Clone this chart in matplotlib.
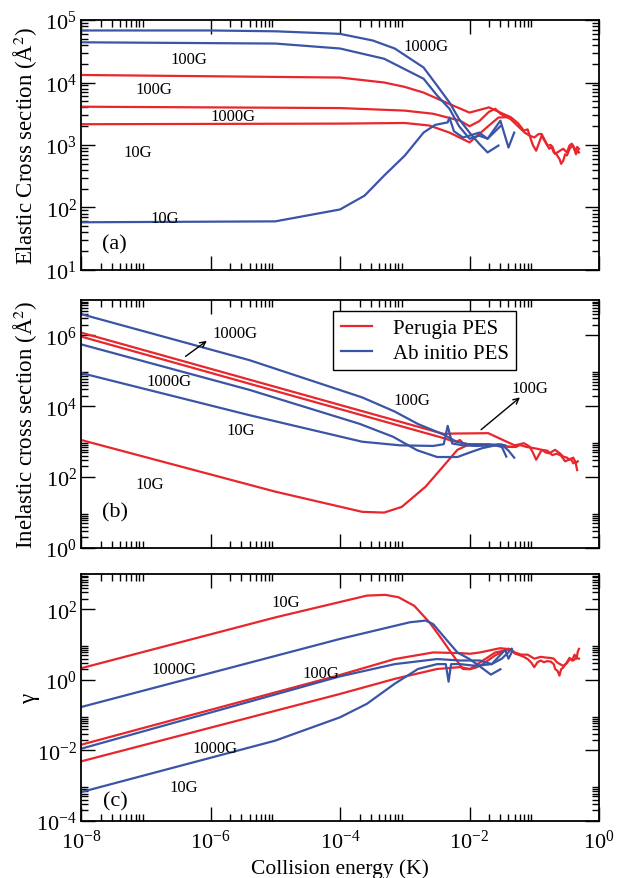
import matplotlib
matplotlib.use("Agg")
import matplotlib.pyplot as plt
from matplotlib.ticker import FixedLocator, LogFormatterMathtext, NullFormatter

plt.rcParams['font.family'] = ['Liberation Serif', 'DejaVu Serif']
plt.rcParams['mathtext.fontset'] = 'stix'

RED = '#e8262b'
BLUE = '#3b55a6'

# ---------------- (a) elastic cross sections (Å^2) ----------------
a_blue_1000G_E = [1e-8, 1e-6, 1e-5, 1e-4, 3.2e-4, 7e-4, 1.95e-3, 3.16e-3, 4.9e-3, 6.9e-3, 1e-2, 1.41e-2, 1.9e-2, 2.8e-2]
a_blue_1000G = [6.8e4, 6.8e4, 6.6e4, 6.0e4, 4.7e4, 3.5e4, 1.74e4, 8.9e3, 4.8e3, 2.6e3, 1.58e3, 1.05e3, 7.6e2, 9.8e2]

a_blue_100G_E = [1e-8, 1e-5, 1e-4, 4.8e-4, 1.95e-3, 3.16e-3, 4.9e-3, 6.9e-3, 1e-2, 1.41e-2, 1.9e-2, 3e-2, 4e-2, 4.9e-2]
a_blue_100G = [4.4e4, 4.2e4, 3.5e4, 2.4e4, 1.15e4, 6.2e3, 3.8e3, 2.0e3, 1.26e3, 1.41e3, 1.26e3, 2.45e3, 9.1e2, 1.58e3]

a_blue_10G_E = [1e-8, 1e-5, 1e-4, 2.4e-4, 4.8e-4, 1e-3, 1.95e-3, 2.95e-3, 4.6e-3, 4.9e-3, 5.75e-3, 7.9e-3, 1e-2, 1.41e-2, 1.9e-2, 3e-2]
a_blue_10G = [58, 60, 93, 155, 324, 676, 1.58e3, 2.1e3, 2.3e3, 2.75e3, 1.66e3, 1.32e3, 1.41e3, 1.58e3, 1.26e3, 2.0e3]

a_red_100G_E = [1e-8, 1e-4, 4.8e-4, 1e-3, 1.95e-3, 4.3e-3, 1e-2, 2e-2, 3e-2, 4.3e-2,
                5.6e-2, 6.9e-2, 7.9e-2, 8.5e-2, 9.5e-2, 0.107, 0.12, 0.13, 0.148, 0.16, 0.18, 0.2,
                0.22, 0.245, 0.26, 0.28, 0.30, 0.32, 0.355, 0.4, 0.44, 0.47, 0.49]
a_red_100G = [1.32e4, 1.2e4, 1.0e4, 8.5e3, 6.9e3, 4.8e3, 3.3e3, 4.0e3, 3.3e3, 2.8e3,
              2.24e3, 1.7e3, 1.78e3, 1.41e3, 1.0e3, 8.1e2, 1.12e3, 1.41e3, 1.12e3, 9.8e2, 1.0e3, 7.6e2,
              7.1e2, 6.0e2, 5.0e2, 5.6e2, 7.1e2, 6.8e2, 8.9e2, 9.8e2, 7.1e2, 8.3e2, 7.6e2]

a_red_1000G_E = [1e-8, 1e-4, 1e-3, 2.75e-3, 7.1e-3, 1e-2, 1.41e-2, 2e-2, 2.5e-2, 3e-2, 4.3e-2,
                 5.6e-2, 7.1e-2, 8.5e-2, 0.1, 0.117, 0.13, 0.15, 0.17, 0.19, 0.21, 0.24, 0.28,
                 0.32, 0.35, 0.38, 0.43, 0.46, 0.49]
a_red_1000G = [4.1e3, 3.9e3, 3.55e3, 3.16e3, 2.45e3, 2.0e3, 2.4e3, 3.4e3, 3.8e3, 3.16e3, 2.6e3,
               2.0e3, 1.58e3, 1.41e3, 1.32e3, 1.5e3, 1.5e3, 1.12e3, 8.7e2, 9.5e2, 7.2e2, 7.9e2, 8.7e2,
               7.6e2, 9.8e2, 1.05e3, 8.1e2, 9.3e2, 8.7e2]

a_red_10G_E = [1e-8, 1e-4, 1e-3, 2.4e-3, 4.9e-3, 1e-2, 2e-2, 2.8e-2, 4e-2]
a_red_10G = [2.15e3, 2.2e3, 2.25e3, 2.05e3, 1.58e3, 1.1e3, 2.05e3, 2.75e3, 2.8e3]

# ---------------- (b) inelastic cross sections (Å^2) ----------------
b_blue_100G_E = [1e-8, 4e-6, 2.2e-4, 7e-4, 1.6e-3, 4e-3, 6.3e-3, 1e-2, 1.58e-2, 2.5e-2, 3.16e-2, 4e-2, 4.9e-2]
b_blue_100G = [4.0e6, 2.0e5, 1.78e4, 7.1e3, 3.16e3, 1.58e3, 1.0e3, 8.3e2, 7.9e2, 7.9e2, 8.3e2, 5.6e2, 3.55e2]

b_blue_1000G_E = [1e-8, 4e-6, 2e-4, 6.6e-4, 1.55e-3, 3.16e-3, 6.5e-3, 1.02e-2, 1.58e-2, 2.5e-2, 3.16e-2, 3.7e-2]
b_blue_1000G = [5.6e5, 2.9e4, 3.2e3, 1.38e3, 5.75e2, 3.7e2, 3.7e2, 5.0e2, 6.6e2, 7.9e2, 7.1e2, 3.8e2]

b_blue_10G_E = [1e-8, 4e-6, 2.2e-4, 8.5e-4, 2.75e-3, 4e-3, 4.6e-3, 5.4e-3, 7.9e-3, 1.26e-2, 2e-2, 2.8e-2, 3.55e-2]
b_blue_10G = [8.7e4, 5.6e3, 1.0e3, 7.9e2, 7.6e2, 8.5e2, 2.8e3, 8.9e2, 7.9e2, 7.6e2, 7.9e2, 8.5e2, 7.9e2]

b_red_100G_E = [1e-8, 4e-3, 5.6e-3, 1.95e-2, 4.3e-2,
                5e-2, 6e-2, 6.9e-2, 7.9e-2, 8.5e-2, 9.5e-2, 0.107, 0.12, 0.13, 0.15, 0.17, 0.2, 0.21,
                0.245, 0.28, 0.32, 0.35, 0.37, 0.4, 0.43, 0.46]
b_red_100G = [1.2e6, 1.66e3, 1.7e3, 1.74e3, 8.9e2,
              7.9e2, 8.5e2, 9.1e2, 7.9e2, 7.2e2, 5.0e2, 3.1e2, 4.5e2, 5.9e2, 5.0e2, 4.7e2, 5.6e2, 5.9e2,
              4.8e2, 3.8e2, 3.55e2, 3.1e2, 3.3e2, 2.45e2, 2.8e2, 1.58e2]

b_red_1000G_E = [1e-8, 4e-3, 5.4e-3, 6.3e-3, 7.1e-3, 8e-3, 1e-2, 2e-2, 4e-2,
                 5.2e-2, 6e-2, 7.6e-2, 8.9e-2, 0.112, 0.13, 0.158, 0.19, 0.224, 0.26, 0.3, 0.35,
                 0.4, 0.44, 0.47]
b_red_1000G = [9.3e5, 1.26e3, 1.05e3, 1.0e3, 1.12e3, 8.9e2, 8.5e2, 8.3e2, 7.2e2,
               7.1e2, 8.1e2, 7.1e2, 6.8e2, 6.3e2, 5.9e2, 5.6e2, 4.2e2, 4.6e2, 4.0e2, 2.8e2, 3.16e2,
               3.55e2, 2.5e2, 2.8e2]

b_red_10G_E = [1e-8, 1e-5, 2.2e-4, 4.8e-4, 9e-4, 2.1e-3, 4.3e-3, 6.5e-3, 1e-2, 2e-2, 3.16e-2, 4.5e-2]
b_red_10G = [1.12e3, 39, 10.5, 10, 14.5, 54, 2.45e2, 5.9e2, 8.5e2, 8.5e2, 7.6e2, 7.1e2]

# ---------------- (c) ratio gamma ----------------
c_red_10G_E = [1e-8, 1e-5, 2.6e-4, 5e-4, 8e-4, 1.4e-3, 2.4e-3, 3.7e-3, 5.6e-3, 7.9e-3, 1e-2, 1.26e-2, 1.6e-2, 2.5e-2, 4e-2]
c_red_10G = [2.14, 59, 2.45e2, 2.57e2, 2.2e2, 1.26e2, 43, 14.5, 4.9, 2.04, 2.0, 2.24, 2.8, 5.0, 7.6]

c_blue_1000G_E = [1e-8, 1e-4, 1.2e-3, 2.1e-3, 2.75e-3, 4.3e-3, 6.5e-3, 1e-2, 1.38e-2, 2.14e-2, 3e-2]
c_blue_1000G = [0.17, 14.5, 43, 48, 38, 14.5, 6.0, 3.9, 2.57, 1.41, 2.0]

c_red_100G_E = [1e-8, 1e-4, 7e-4, 2.75e-3, 7.1e-3, 1.02e-2, 1.45e-2, 2.95e-2, 4.3e-2,
                5e-2, 6e-2, 6.9e-2, 7.9e-2, 8.9e-2, 0.1, 0.112, 0.126, 0.141, 0.158, 0.18, 0.2, 0.21,
                0.23, 0.245, 0.26, 0.28, 0.32, 0.35, 0.38, 0.42, 0.45, 0.47, 0.49]
c_red_100G = [0.0145, 1.38, 3.9, 6.0, 5.75, 5.5, 6.0, 7.9, 7.4,
              5.6, 5.0, 4.5, 3.9, 3.16, 2.3, 3.16, 3.55, 3.16, 3.4, 3.3, 2.8, 2.04,
              1.78, 1.32, 2.0, 2.24, 3.16, 4.2, 3.55, 5.2, 4.0, 6.3, 7.6]

c_blue_100G_E = [1e-8, 1e-4, 7e-4, 3.16e-3, 7.1e-3, 1.45e-2, 2.2e-2, 3.55e-2, 4e-2, 4.6e-2]
c_blue_100G = [0.0112, 1.26, 2.8, 3.9, 3.55, 3.55, 2.8, 7.1, 4.0, 6.6]

c_red_1000G_E = [1e-8, 1e-4, 7e-4, 3.16e-3, 7.1e-3, 1.02e-2, 2.5e-2, 4.3e-2,
                 5e-2, 6.3e-2, 7.9e-2, 0.1, 0.126, 0.15, 0.178, 0.2, 0.224, 0.25, 0.28, 0.32,
                 0.355, 0.4, 0.447, 0.49]
c_red_1000G = [0.0049, 0.4, 1.07, 2.04, 2.3, 2.04, 6.0, 7.4,
               6.0, 5.2, 5.2, 4.0, 4.5, 4.3, 4.2, 4.0, 3.16, 2.8, 2.5, 3.0,
               4.0, 3.55, 4.2, 4.0]

c_blue_10G_E = [1e-8, 1e-5, 1e-4, 2.6e-4, 7e-4, 1.6e-3, 3.16e-3, 4.3e-3, 4.75e-3, 5.2e-3, 7.1e-3, 1.26e-2, 2.2e-2, 3.16e-2, 4.5e-2]
c_blue_10G = [6.6e-4, 0.019, 0.087, 0.21, 0.78, 2.04, 2.8, 2.8, 0.89, 2.8, 2.8, 2.5, 2.8, 4.0, 7.6]

x_major = [1e-8, 1e-6, 1e-4, 1e-2, 1e0]


def minor_ticks(exponents):
    return [k * 10.0 ** e for e in exponents for k in range(2, 10)]


fig = plt.figure(figsize=(6.19, 8.79), dpi=100)
L, W = 0.1309, 0.8368
ax_a = fig.add_axes([L, 0.6917, W, 0.2844])
ax_b = fig.add_axes([L, 0.3754, W, 0.2822])
ax_c = fig.add_axes([L, 0.0648, W, 0.2810])

LW = 1.6
TICK_FS = 16
LABEL_FS = 16.5


def style(ax, ylim, y_major, y_minor_exp, show_x):
    ax.set_xscale('log')
    ax.set_yscale('log')
    ax.set_xlim(1e-8, 1e0)
    ax.set_ylim(*ylim)
    ax.xaxis.set_major_locator(FixedLocator(x_major))
    ax.xaxis.set_minor_locator(FixedLocator(minor_ticks([-8, -6, -4, -2])))
    ax.yaxis.set_major_locator(FixedLocator(y_major))
    ax.yaxis.set_minor_locator(FixedLocator(minor_ticks(y_minor_exp)))
    ax.yaxis.set_major_formatter(LogFormatterMathtext())
    ax.yaxis.set_minor_formatter(NullFormatter())
    ax.xaxis.set_minor_formatter(NullFormatter())
    if show_x:
        ax.xaxis.set_major_formatter(LogFormatterMathtext())
    else:
        ax.xaxis.set_major_formatter(NullFormatter())
    ax.tick_params(which='both', direction='in', top=True, right=True, width=1.0)
    ax.tick_params(which='major', length=10, labelsize=TICK_FS)
    ax.tick_params(which='minor', length=5)
    ax.tick_params(axis='y', which='major', pad=3)
    ax.tick_params(axis='x', which='major', pad=6)
    for s in ax.spines.values():
        s.set_linewidth(1.3)


# (a)
ax_a.plot(a_red_100G_E, a_red_100G, color=RED, lw=LW)
ax_a.plot(a_red_1000G_E, a_red_1000G, color=RED, lw=LW)
ax_a.plot(a_red_10G_E, a_red_10G, color=RED, lw=LW)
ax_a.plot(a_blue_1000G_E, a_blue_1000G, color=BLUE, lw=LW)
ax_a.plot(a_blue_100G_E, a_blue_100G, color=BLUE, lw=LW)
ax_a.plot(a_blue_10G_E, a_blue_10G, color=BLUE, lw=LW)
style(ax_a, (1e1, 1e5), [1e1, 1e2, 1e3, 1e4, 1e5], [1, 2, 3, 4], False)
ax_a.set_ylabel('Elastic Cross section (Å$^2$)', fontsize=LABEL_FS)

lab = dict(fontsize=12, ha='center', va='center')
ax_a.text(2.1e-3, 3.9e4, '1000G', **lab)
ax_a.text(4.7e-7, 2.4e4, '100G', **lab)
ax_a.text(1.35e-7, 7.8e3, '100G', **lab)
ax_a.text(2.2e-6, 2.95e3, '1000G', **lab)
ax_a.text(7.6e-8, 7.6e2, '10G', **lab)
ax_a.text(2.0e-7, 69, '10G', **lab)
ax_a.text(3.3e-8, 26, '(a)', fontsize=16, ha='center', va='center')

# (b)
ax_b.plot(b_red_100G_E, b_red_100G, color=RED, lw=LW)
ax_b.plot(b_red_1000G_E, b_red_1000G, color=RED, lw=LW)
ax_b.plot(b_red_10G_E, b_red_10G, color=RED, lw=LW, label='Perugia PES')
ax_b.plot(b_blue_100G_E, b_blue_100G, color=BLUE, lw=LW, label='Ab initio PES')
ax_b.plot(b_blue_1000G_E, b_blue_1000G, color=BLUE, lw=LW)
ax_b.plot(b_blue_10G_E, b_blue_10G, color=BLUE, lw=LW)
style(ax_b, (1e0, 1e7), [1e0, 1e2, 1e4, 1e6], [0, 2, 4, 6], False)
ax_b.set_ylabel('Inelastic cross section (Å$^2$)', fontsize=LABEL_FS)

ax_b.text(2.4e-6, 1.2e6, '1000G', **lab)
ax_b.annotate('', xy=(9.5e-7, 7.8e5), xytext=(3.8e-7, 2.3e5),
              arrowprops=dict(arrowstyle='->', color='black', lw=1.0))
ax_b.text(2.3e-7, 5.1e4, '1000G', **lab)
ax_b.text(2.9e-6, 2.2e3, '10G', **lab)
ax_b.text(1.15e-7, 66, '10G', **lab)
ax_b.text(1.3e-3, 1.55e4, '100G', **lab)
ax_b.text(8.5e-2, 3.3e4, '100G', **lab)
ax_b.annotate('', xy=(6.5e-2, 2.0e4), xytext=(1.4e-2, 1.95e3),
              arrowprops=dict(arrowstyle='->', color='black', lw=1.0))
ax_b.text(3.4e-8, 10.5, '(b)', fontsize=16, ha='center', va='center')

leg = ax_b.legend(loc='upper left', bbox_to_anchor=(0.487, 0.955), fontsize=15,
                  frameon=True, fancybox=False, edgecolor='black', framealpha=1,
                  handlelength=1.5, handletextpad=1.0, borderpad=0.35, labelspacing=0.25,
                  borderaxespad=0)
leg.get_frame().set_linewidth(1.0)

# (c)
ax_c.plot(c_red_10G_E, c_red_10G, color=RED, lw=LW)
ax_c.plot(c_red_100G_E, c_red_100G, color=RED, lw=LW)
ax_c.plot(c_red_1000G_E, c_red_1000G, color=RED, lw=LW)
ax_c.plot(c_blue_1000G_E, c_blue_1000G, color=BLUE, lw=LW)
ax_c.plot(c_blue_100G_E, c_blue_100G, color=BLUE, lw=LW)
ax_c.plot(c_blue_10G_E, c_blue_10G, color=BLUE, lw=LW)
style(ax_c, (1e-4, 1e3), [1e-4, 1e-2, 1e0, 1e2], [-4, -2, 0, 2], True)
ax_c.set_ylabel('γ', fontsize=LABEL_FS)
ax_c.set_xlabel('Collision energy (K)', fontsize=15.5, va='top')

ax_c.text(1.45e-5, 1.6e2, '10G', **lab)
ax_c.text(2.7e-7, 2.1, '1000G', **lab)
ax_c.text(5.1e-5, 1.6, '100G', **lab)
ax_c.text(1.17e-6, 1.2e-2, '1000G', **lab)
ax_c.text(3.8e-7, 9.1e-4, '10G', **lab)
ax_c.text(3.4e-8, 3.8e-4, '(c)', fontsize=16, ha='center', va='center')

for ax in (ax_a, ax_b, ax_c):
    ax.yaxis.set_label_coords(-0.08, 0.5)
ax_c.xaxis.set_label_coords(0.5, -0.15)

fig.savefig('out.png', dpi=100)
